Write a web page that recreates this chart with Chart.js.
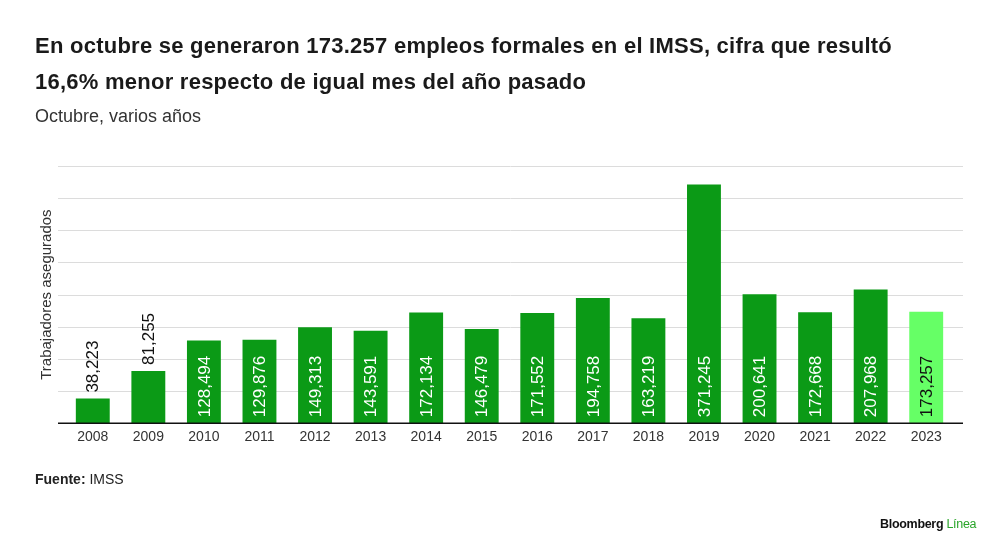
<!DOCTYPE html>
<html>
<head>
<meta charset="utf-8">
<script src="https://cdn.jsdelivr.net/npm/chart.js@4.4.0/dist/chart.umd.min.js"></script>
<style>
  html, body { margin: 0; padding: 0; background: #fff; }
  body { width: 1000px; height: 555px; position: relative; overflow: hidden; font-family: "Liberation Sans", Arial, sans-serif; }
  #wrap { position: absolute; left: 0; top: 0; width: 1000px; height: 555px; }
  .title { position: absolute; left: 35px; font-weight: bold; font-size: 22px; color: #1a1a1a; letter-spacing: 0.25px; white-space: nowrap; }
  .sub { position: absolute; left: 35px; top: 106px; font-size: 18px; color: #333; white-space: nowrap; }
  .src { position: absolute; left: 35px; top: 471px; font-size: 14px; color: #222; }
  .brand { position: absolute; left: 880px; top: 517px; font-size: 12.5px; font-weight: bold; color: #111; letter-spacing: -0.3px; }
  .brand span { color: #2aa52a; font-weight: normal; }
</style>
</head>
<body>
<div id="wrap"><canvas id="bars"></canvas></div>
<div class="title" style="top:33px">En octubre se generaron 173.257 empleos formales en el IMSS, cifra que resultó</div>
<div class="title" style="top:69px">16,6% menor respecto de igual mes del año pasado</div>
<div class="sub">Octubre, varios años</div>
<div class="src"><b>Fuente:</b> IMSS</div>
<div class="brand">Bloomberg <span>Línea</span></div>
<script>
const years = ['2008', '2009', '2010', '2011', '2012', '2013', '2014', '2015',
  '2016', '2017', '2018', '2019', '2020', '2021', '2022', '2023'];
const jobs = [38223, 81255, 128494, 129876, 149313, 143591, 172134, 146479,
  171552, 194758, 163219, 371245, 200641, 172668, 207968, 173257];
const darkGreen = '#0b9a16';
const lightGreen = '#66ff66';

const barColors = years.map((y, i) => i === years.length - 1 ? lightGreen : darkGreen);

// gridlines reach a bit past the bars, like the original
const gridPlugin = {
  id: 'gridPlugin',
  beforeDatasetsDraw(chart) {
    const { ctx, chartArea, scales } = chart;
    ctx.save();
    ctx.strokeStyle = '#dcdcdc';
    ctx.lineWidth = 1;
    scales.y.ticks.forEach(t => {
      if (t.value === 0) return;
      const y = Math.round(scales.y.getPixelForValue(t.value)) + 0.5;
      ctx.beginPath();
      ctx.moveTo(chartArea.left - 7, y);
      ctx.lineTo(chartArea.right + 9, y);
      ctx.stroke();
    });
    ctx.restore();
  },
  afterDatasetsDraw(chart) {
    const { ctx, chartArea, scales } = chart;
    const y0 = scales.y.getPixelForValue(0);
    ctx.save();
    ctx.strokeStyle = '#111';
    ctx.lineWidth = 1.5;
    ctx.beginPath();
    ctx.moveTo(chartArea.left - 7, y0);
    ctx.lineTo(chartArea.right + 9, y0);
    ctx.stroke();
    ctx.restore();
  }
};

// vertical value labels, inside the bar when they fit
const labelPlugin = {
  id: 'labelPlugin',
  afterDatasetsDraw(chart) {
    const { ctx } = chart;
    const meta = chart.getDatasetMeta(0);
    ctx.save();
    ctx.font = '17px "Liberation Sans", Arial, sans-serif';
    ctx.textBaseline = 'middle';
    ctx.textAlign = 'left';
    meta.data.forEach((bar, i) => {
      const txt = jobs[i].toLocaleString('en-US');
      const w = ctx.measureText(txt).width;
      const h = bar.base - bar.y;
      let start, color;
      if (h > w + 12) {
        start = bar.base - 6;
        color = i === jobs.length - 1 ? '#111' : '#fff';
      } else {
        start = bar.y - 6;
        color = '#111';
      }
      ctx.save();
      ctx.translate(bar.x + 1, start);
      ctx.rotate(-Math.PI / 2);
      ctx.fillStyle = color;
      ctx.fillText(txt, 0, 0);
      ctx.restore();
    });
    ctx.restore();
  }
};

new Chart(document.getElementById('bars'), {
  type: 'bar',
  data: {
    labels: years,
    datasets: [{
      data: jobs,
      backgroundColor: barColors,
      borderWidth: 0,
      barPercentage: 0.61,
      categoryPercentage: 1.0
    }]
  },
  options: {
    responsive: true,
    maintainAspectRatio: false,
    animation: false,
    layout: { padding: { left: 34, right: 46, top: 166, bottom: 111 } },
    plugins: { legend: { display: false }, tooltip: { enabled: false } },
    scales: {
      x: {
        grid: { display: false },
        border: { display: false },
        ticks: { color: '#333', font: { size: 14, family: '"Liberation Sans", Arial, sans-serif' }, padding: -2, maxRotation: 0 }
      },
      y: {
        min: 0,
        max: 400000,
        ticks: { display: false, stepSize: 50000 },
        grid: { display: false },
        border: { display: false },
        title: {
          display: true,
          text: 'Trabajadores asegurados',
          color: '#333',
          font: { size: 15, family: '"Liberation Sans", Arial, sans-serif' },
          padding: { top: 4, bottom: 1 }
        }
      }
    }
  },
  plugins: [gridPlugin, labelPlugin]
});
</script>
</body>
</html>
